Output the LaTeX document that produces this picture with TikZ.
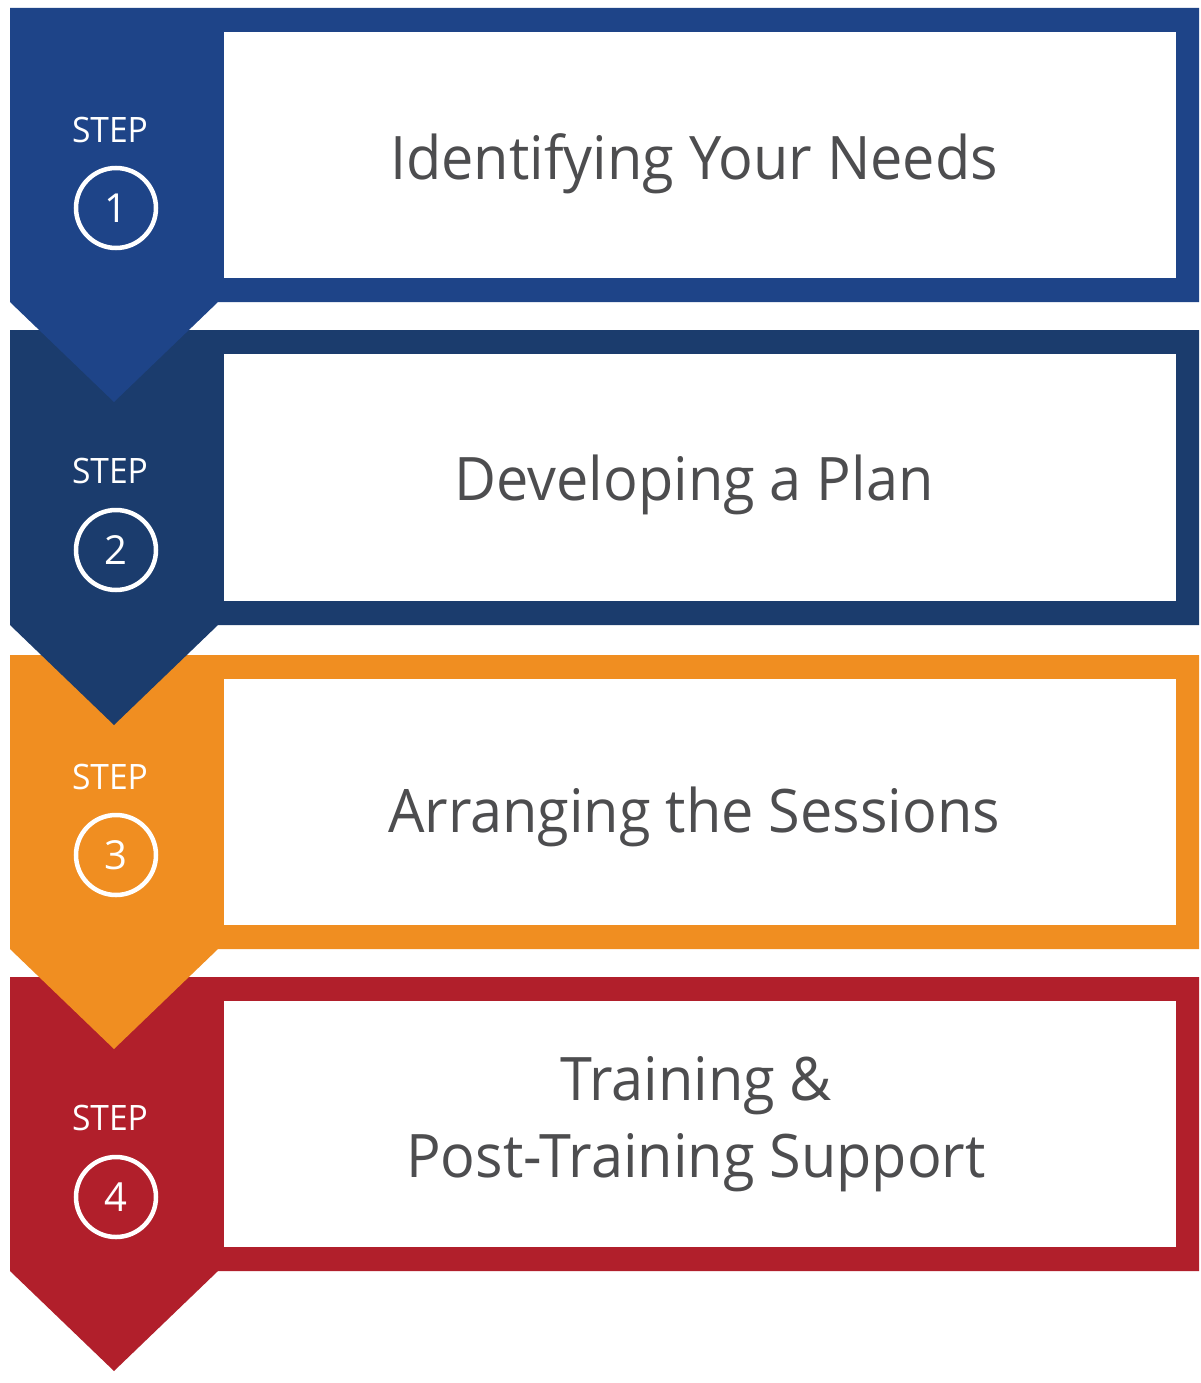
\documentclass[tikz,border=0pt]{standalone}
\usepackage{fontspec}
\setmainfont{Open Sans}
\newfontfamily\narrowfont[FakeStretch=0.96]{Open Sans}
\definecolor{cA}{HTML}{1E4488}
\definecolor{cB}{HTML}{1B3C6D}
\definecolor{cC}{HTML}{F08E21}
\definecolor{cD}{HTML}{B11F2B}
\definecolor{txt}{HTML}{4D4D4F}
\tikzset{
  maintext/.style={text=txt, font=\narrowfont\fontsize{60}{77}\selectfont, inner sep=0pt, anchor=base, align=center},
  steptext/.style={text=white, font=\narrowfont\fontsize{35}{40}\selectfont, inner sep=0pt, anchor=base},
  numcircle/.style={circle, draw=white, line width=4.5pt, minimum size=80pt, inner sep=0pt, text=white, font=\fontsize{40}{44}\selectfont},
}
\newcommand{\stepblock}[3]{%
  % #1 top, #2 bottom, #3 colour
  \fill[#3] (10,#1) -- (1199,#1) -- (1199,#2) -- (218,#2) -- (114,#2+100) -- (10,#2) -- cycle;
  \fill[white] (224,#1+24) rectangle (1176,#2-24);
}
\begin{document}
\begin{tikzpicture}[x=1pt,y=-1pt]
\useasboundingbox (0,0) rectangle (1200,1383);
\fill[white] (0,0) rectangle (1200,1383);
% drawn bottom-up so each chevron lies on top of the next block
\stepblock{977}{1271}{cD}
\node[steptext] (s4) at (110,1130) {STEP};
\node[numcircle] (n4) at (116,1197) {4};
\node[maintext] (t4a) at (696,1100) {Training \&};
\node[maintext] (t4b) at (696,1177) {Post-Training Support};

\stepblock{655}{949}{cC}
\node[steptext] (s3) at (110,789) {STEP};
\node[numcircle] (n3) at (116,855) {3};
\node[maintext] (t3) at (694,832) {Arranging the Sessions};

\stepblock{330}{625}{cB}
\node[steptext] (s2) at (110,483) {STEP};
\node[numcircle] (n2) at (116,550) {2};
\node[maintext] (t2) at (694,500) {Developing a Plan};

\stepblock{8}{302}{cA}
\node[steptext] (s1) at (110,143) {STEP};
\node[numcircle] (n1) at (116,208) {1};
\node[maintext] (t1) at (694,180) {Identifying Your Needs};
\end{tikzpicture}
\end{document}
